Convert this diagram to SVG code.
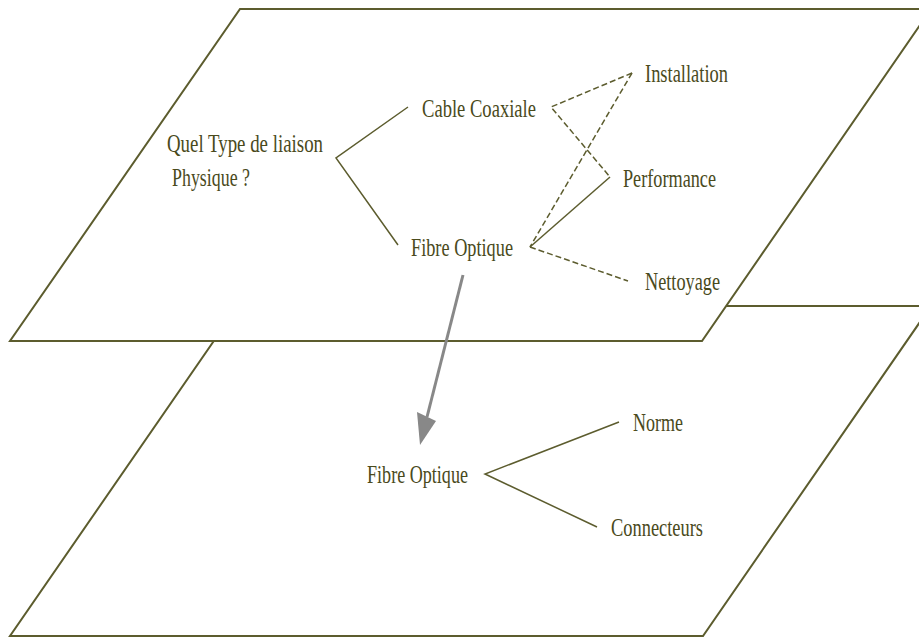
<svg xmlns="http://www.w3.org/2000/svg" width="919" height="637" viewBox="0 0 919 637">
<style>
.plane{fill:#ffffff;stroke:#5c5c2e;stroke-width:2}
.lbl{font-family:"Liberation Serif","Times New Roman",serif;font-size:26px;fill:#4a4a1c}
.ln{fill:none;stroke:#5c5c2e;stroke-width:1.5}
.dash{stroke-dasharray:6 3}
</style>
<rect width="919" height="637" fill="#ffffff"/>
<g id="planes">
<polygon class="plane" points="238,306 931,306 703,636 10,636"/>
<polygon class="plane" points="240,9 931,9 702,341 10,341"/>
</g>
<g id="connectors">
<path class="ln" d="M408,107 L336,158 L398,245"/>
<path class="ln dash" d="M632,73 L551,107 L610,177"/>
<path class="ln dash" d="M632,73 L530,247"/>
<path class="ln" d="M610,177 L530,247"/>
<path class="ln dash" d="M530,247 L628,281"/>
<path class="ln" d="M619,422 L485,474 L597,527"/>
<g id="drill-arrow">
<line x1="463" y1="275" x2="427" y2="417" stroke="#888888" stroke-width="3"/>
<polygon points="417,412 436,421 420,445" fill="#888888"/>
</g>
</g>
<g id="n-question"><text class="lbl" x="167" y="152" textLength="156" lengthAdjust="spacingAndGlyphs">Quel Type de liaison</text><text class="lbl" x="172" y="186" textLength="78" lengthAdjust="spacingAndGlyphs">Physique ?</text></g>
<g id="n-cable"><text class="lbl" x="422" y="117" textLength="114" lengthAdjust="spacingAndGlyphs">Cable Coaxiale</text></g>
<g id="n-fibre"><text class="lbl" x="411" y="256" textLength="102" lengthAdjust="spacingAndGlyphs">Fibre Optique</text></g>
<g id="n-installation"><text class="lbl" x="645" y="82" textLength="83" lengthAdjust="spacingAndGlyphs">Installation</text></g>
<g id="n-performance"><text class="lbl" x="623" y="187" textLength="93" lengthAdjust="spacingAndGlyphs">Performance</text></g>
<g id="n-nettoyage"><text class="lbl" x="645" y="290" textLength="75" lengthAdjust="spacingAndGlyphs">Nettoyage</text></g>
<g id="n-fibre2"><text class="lbl" x="367" y="483" textLength="101" lengthAdjust="spacingAndGlyphs">Fibre Optique</text></g>
<g id="n-norme"><text class="lbl" x="633" y="431" textLength="50" lengthAdjust="spacingAndGlyphs">Norme</text></g>
<g id="n-connecteurs"><text class="lbl" x="611" y="536" textLength="92" lengthAdjust="spacingAndGlyphs">Connecteurs</text></g>
</svg>
